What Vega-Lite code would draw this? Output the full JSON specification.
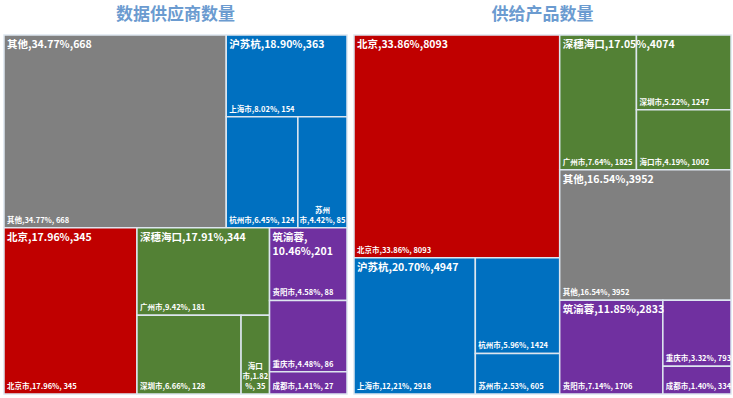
{
  "$schema": "https://vega.github.io/schema/vega-lite/v6.json",
  "padding": {"left": 3, "top": 6, "right": 0, "bottom": 0},
  "config": {"view": {"stroke": null}},
  "spacing": 7,
  "bounds": "flush",
  "data": {"values": [
    {"panel": "L", "gdir": "rows", "gs": 0, "go": 0, "group": "其他", "cdir": "rows", "cs": 0, "co": 0, "city": "其他", "v": 668, "glabel": "其他,34.77%,668", "leaf": "其他,34.77%, 668"},
    {"panel": "L", "gdir": "rows", "gs": 0, "go": 1, "group": "沪苏杭", "cdir": "rows", "cs": 0, "co": 0, "city": "上海市", "v": 154, "glabel": "沪苏杭,18.90%,363", "leaf": "上海市,8.02%, 154"},
    {"panel": "L", "gdir": "rows", "gs": 0, "go": 1, "group": "沪苏杭", "cdir": "rows", "cs": 1, "co": 0, "city": "杭州市", "v": 124, "glabel": "沪苏杭,18.90%,363", "leaf": "杭州市,6.45%, 124"},
    {"panel": "L", "gdir": "rows", "gs": 0, "go": 1, "group": "沪苏杭", "cdir": "rows", "cs": 1, "co": 1, "city": "苏州市", "v": 85, "glabel": "沪苏杭,18.90%,363", "leaf": "苏州\n市,4.42%, 85"},
    {"panel": "L", "gdir": "rows", "gs": 1, "go": 0, "group": "北京", "cdir": "rows", "cs": 0, "co": 0, "city": "北京市", "v": 345, "glabel": "北京,17.96%,345", "leaf": "北京市,17.96%, 345"},
    {"panel": "L", "gdir": "rows", "gs": 1, "go": 1, "group": "深穗海口", "cdir": "rows", "cs": 0, "co": 0, "city": "广州市", "v": 181, "glabel": "深穗海口,17.91%,344", "leaf": "广州市,9.42%, 181"},
    {"panel": "L", "gdir": "rows", "gs": 1, "go": 1, "group": "深穗海口", "cdir": "rows", "cs": 1, "co": 0, "city": "深圳市", "v": 128, "glabel": "深穗海口,17.91%,344", "leaf": "深圳市,6.66%, 128"},
    {"panel": "L", "gdir": "rows", "gs": 1, "go": 1, "group": "深穗海口", "cdir": "rows", "cs": 1, "co": 1, "city": "海口市", "v": 35, "glabel": "深穗海口,17.91%,344", "leaf": "海口\n市,1.82\n%, 35"},
    {"panel": "L", "gdir": "rows", "gs": 1, "go": 2, "group": "筑渝蓉", "cdir": "rows", "cs": 0, "co": 0, "city": "贵阳市", "v": 88, "glabel": "筑渝蓉,\n10.46%,201", "leaf": "贵阳市,4.58%, 88"},
    {"panel": "L", "gdir": "rows", "gs": 1, "go": 2, "group": "筑渝蓉", "cdir": "rows", "cs": 1, "co": 0, "city": "重庆市", "v": 86, "glabel": "筑渝蓉,\n10.46%,201", "leaf": "重庆市,4.48%, 86"},
    {"panel": "L", "gdir": "rows", "gs": 1, "go": 2, "group": "筑渝蓉", "cdir": "rows", "cs": 2, "co": 0, "city": "成都市", "v": 27, "glabel": "筑渝蓉,\n10.46%,201", "leaf": "成都市,1.41%, 27"},
    {"panel": "R", "gdir": "cols", "gs": 0, "go": 0, "group": "北京", "cdir": "cols", "cs": 0, "co": 0, "city": "北京市", "v": 8093, "glabel": "北京,33.86%,8093", "leaf": "北京市,33.86%, 8093"},
    {"panel": "R", "gdir": "cols", "gs": 0, "go": 1, "group": "沪苏杭", "cdir": "cols", "cs": 0, "co": 0, "city": "上海市", "v": 2918, "glabel": "沪苏杭,20.70%,4947", "leaf": "上海市,12,21%, 2918"},
    {"panel": "R", "gdir": "cols", "gs": 0, "go": 1, "group": "沪苏杭", "cdir": "cols", "cs": 1, "co": 0, "city": "杭州市", "v": 1424, "glabel": "沪苏杭,20.70%,4947", "leaf": "杭州市,5.96%, 1424"},
    {"panel": "R", "gdir": "cols", "gs": 0, "go": 1, "group": "沪苏杭", "cdir": "cols", "cs": 1, "co": 1, "city": "苏州市", "v": 605, "glabel": "沪苏杭,20.70%,4947", "leaf": "苏州市,2.53%, 605"},
    {"panel": "R", "gdir": "cols", "gs": 1, "go": 0, "group": "深穗海口", "cdir": "cols", "cs": 0, "co": 0, "city": "广州市", "v": 1825, "glabel": "深穗海口,17.05%,4074", "leaf": "广州市,7.64%, 1825"},
    {"panel": "R", "gdir": "cols", "gs": 1, "go": 0, "group": "深穗海口", "cdir": "cols", "cs": 1, "co": 0, "city": "深圳市", "v": 1247, "glabel": "深穗海口,17.05%,4074", "leaf": "深圳市,5.22%, 1247"},
    {"panel": "R", "gdir": "cols", "gs": 1, "go": 0, "group": "深穗海口", "cdir": "cols", "cs": 1, "co": 1, "city": "海口市", "v": 1002, "glabel": "深穗海口,17.05%,4074", "leaf": "海口市,4.19%, 1002"},
    {"panel": "R", "gdir": "cols", "gs": 1, "go": 1, "group": "其他", "cdir": "cols", "cs": 0, "co": 0, "city": "其他", "v": 3952, "glabel": "其他,16.54%,3952", "leaf": "其他,16.54%, 3952"},
    {"panel": "R", "gdir": "cols", "gs": 1, "go": 2, "group": "筑渝蓉", "cdir": "cols", "cs": 0, "co": 0, "city": "贵阳市", "v": 1706, "glabel": "筑渝蓉,11.85%,2833", "leaf": "贵阳市,7.14%, 1706"},
    {"panel": "R", "gdir": "cols", "gs": 1, "go": 2, "group": "筑渝蓉", "cdir": "cols", "cs": 1, "co": 0, "city": "重庆市", "v": 793, "glabel": "筑渝蓉,11.85%,2833", "leaf": "重庆市,3.32%, 793"},
    {"panel": "R", "gdir": "cols", "gs": 1, "go": 2, "group": "筑渝蓉", "cdir": "cols", "cs": 1, "co": 1, "city": "成都市", "v": 334, "glabel": "筑渝蓉,11.85%,2833", "leaf": "成都市,1.40%, 334"}
  ]},
  "transform": [
    {"joinaggregate": [{"op": "sum", "field": "v", "as": "PT"}], "groupby": ["panel"]},
    {"joinaggregate": [{"op": "sum", "field": "v", "as": "GS"}], "groupby": ["panel", "group"]},
    {"joinaggregate": [{"op": "sum", "field": "v", "as": "SS"}], "groupby": ["panel", "gs"]},
    {"window": [{"op": "sum", "field": "v", "as": "SE"}], "groupby": ["panel"], "sort": [{"field": "gs"}], "frame": [null, 0]},
    {"window": [{"op": "sum", "field": "v", "as": "GE"}], "groupby": ["panel", "gs"], "sort": [{"field": "go"}], "frame": [null, 0]},
    {"joinaggregate": [{"op": "sum", "field": "v", "as": "CS"}], "groupby": ["panel", "group", "cs"]},
    {"window": [{"op": "sum", "field": "v", "as": "CSE"}], "groupby": ["panel", "group"], "sort": [{"field": "cs"}], "frame": [null, 0]},
    {"window": [{"op": "sum", "field": "v", "as": "CE"}], "groupby": ["panel", "group", "cs"], "sort": [{"field": "co"}], "frame": [null, 0]},
    {"calculate": "(datum.SE - datum.SS) / datum.PT", "as": "p0"},
    {"calculate": "datum.SE / datum.PT", "as": "p1"},
    {"calculate": "(datum.GE - datum.GS) / datum.SS", "as": "q0"},
    {"calculate": "datum.GE / datum.SS", "as": "q1"},
    {"calculate": "datum.gdir == 'rows' ? datum.q0 : datum.p0", "as": "gx0"},
    {"calculate": "datum.gdir == 'rows' ? datum.q1 : datum.p1", "as": "gx1"},
    {"calculate": "datum.gdir == 'rows' ? datum.p0 : datum.q0", "as": "gy0"},
    {"calculate": "datum.gdir == 'rows' ? datum.p1 : datum.q1", "as": "gy1"},
    {"calculate": "(datum.CSE - datum.CS) / datum.GS", "as": "P0"},
    {"calculate": "datum.CSE / datum.GS", "as": "P1"},
    {"calculate": "(datum.CE - datum.v) / datum.CS", "as": "Q0"},
    {"calculate": "datum.CE / datum.CS", "as": "Q1"},
    {"calculate": "datum.cdir == 'rows' ? datum.Q0 : datum.P0", "as": "lx0"},
    {"calculate": "datum.cdir == 'rows' ? datum.Q1 : datum.P1", "as": "lx1"},
    {"calculate": "datum.cdir == 'rows' ? datum.P0 : datum.Q0", "as": "ly0"},
    {"calculate": "datum.cdir == 'rows' ? datum.P1 : datum.Q1", "as": "ly1"},
    {"calculate": "datum.gx0 + datum.lx0 * (datum.gx1 - datum.gx0)", "as": "x0"},
    {"calculate": "datum.gx0 + datum.lx1 * (datum.gx1 - datum.gx0)", "as": "x1"},
    {"calculate": "datum.gy0 + datum.ly0 * (datum.gy1 - datum.gy0)", "as": "y0"},
    {"calculate": "datum.gy0 + datum.ly1 * (datum.gy1 - datum.gy0)", "as": "y1"},
    {"calculate": "(datum.x0 + datum.x1) / 2", "as": "xm"},
    {"calculate": "join(reverse(split(datum.leaf, '\\n')), '\\n')", "as": "leafrev"}
  ],
  "hconcat": [
    {
      "width": 343, "height": 359,
      "title": {"text": "数据供应商数量", "fontSize": 17, "font": "Noto Sans CJK SC", "fontWeight": "bold", "color": "#6b9bd0", "offset": 10},
      "transform": [{"filter": "datum.panel == 'L'"}],
      "encoding": {
        "x": {"field": "x0", "type": "quantitative", "scale": {"domain": [0, 1], "nice": false, "zero": false}, "axis": null},
        "y": {"field": "y0", "type": "quantitative", "scale": {"domain": [0, 1], "nice": false, "zero": false, "reverse": true}, "axis": null}
      },
      "layer": [
        {"mark": {"type": "rect", "stroke": "#dde6ef", "strokeWidth": 1.5},
         "encoding": {"x2": {"field": "x1"}, "y2": {"field": "y1"},
           "color": {"field": "group", "type": "nominal", "legend": null,
             "scale": {"domain": ["其他", "沪苏杭", "北京", "深穗海口", "筑渝蓉"], "range": ["#808080", "#0070c0", "#c00000", "#538135", "#7030a0"]}}}},
        {"transform": [{"filter": "datum.cs == 0 && datum.co == 0"}],
         "mark": {"type": "text", "align": "left", "baseline": "top", "dx": 3, "dy": 5, "fontSize": 10.5, "fontWeight": "bold", "font": "Noto Sans CJK SC", "color": "white", "lineBreak": "\n", "lineHeight": 14},
         "encoding": {"text": {"field": "glabel"}}},
        {"transform": [{"filter": "indexof(datum.leaf, '\\n') < 0"}],
         "mark": {"type": "text", "align": "left", "baseline": "bottom", "dx": 3, "dy": -3, "fontSize": 7.5, "fontWeight": "bold", "font": "Noto Sans CJK SC", "color": "white"},
         "encoding": {"y": {"field": "y1", "type": "quantitative"}, "text": {"field": "leaf"}}},
        {"transform": [{"filter": "indexof(datum.leaf, '\\n') >= 0"}],
         "mark": {"type": "text", "align": "center", "baseline": "bottom", "dy": -3, "fontSize": 7.5, "fontWeight": "bold", "font": "Noto Sans CJK SC", "color": "white", "lineBreak": "\n", "lineHeight": -10},
         "encoding": {"x": {"field": "xm", "type": "quantitative"}, "y": {"field": "y1", "type": "quantitative"}, "text": {"field": "leafrev"}}}
      ]
    },
    {
      "width": 377, "height": 359,
      "title": {"text": "供给产品数量", "fontSize": 17, "font": "Noto Sans CJK SC", "fontWeight": "bold", "color": "#6b9bd0", "offset": 10},
      "transform": [{"filter": "datum.panel == 'R'"}],
      "encoding": {
        "x": {"field": "x0", "type": "quantitative", "scale": {"domain": [0, 1], "nice": false, "zero": false}, "axis": null},
        "y": {"field": "y0", "type": "quantitative", "scale": {"domain": [0, 1], "nice": false, "zero": false, "reverse": true}, "axis": null}
      },
      "layer": [
        {"mark": {"type": "rect", "stroke": "#dde6ef", "strokeWidth": 1.5},
         "encoding": {"x2": {"field": "x1"}, "y2": {"field": "y1"},
           "color": {"field": "group", "type": "nominal", "legend": null,
             "scale": {"domain": ["其他", "沪苏杭", "北京", "深穗海口", "筑渝蓉"], "range": ["#808080", "#0070c0", "#c00000", "#538135", "#7030a0"]}}}},
        {"transform": [{"filter": "datum.cs == 0 && datum.co == 0"}],
         "mark": {"type": "text", "align": "left", "baseline": "top", "dx": 3, "dy": 5, "fontSize": 10.5, "fontWeight": "bold", "font": "Noto Sans CJK SC", "color": "white", "lineBreak": "\n", "lineHeight": 14},
         "encoding": {"text": {"field": "glabel"}}},
        {"transform": [{"filter": "indexof(datum.leaf, '\\n') < 0"}],
         "mark": {"type": "text", "align": "left", "baseline": "bottom", "dx": 3, "dy": -3, "fontSize": 7.5, "fontWeight": "bold", "font": "Noto Sans CJK SC", "color": "white"},
         "encoding": {"y": {"field": "y1", "type": "quantitative"}, "text": {"field": "leaf"}}},
        {"transform": [{"filter": "indexof(datum.leaf, '\\n') >= 0"}],
         "mark": {"type": "text", "align": "center", "baseline": "bottom", "dy": -3, "fontSize": 7.5, "fontWeight": "bold", "font": "Noto Sans CJK SC", "color": "white", "lineBreak": "\n", "lineHeight": -10},
         "encoding": {"x": {"field": "xm", "type": "quantitative"}, "y": {"field": "y1", "type": "quantitative"}, "text": {"field": "leafrev"}}}
      ]
    }
  ]
}
